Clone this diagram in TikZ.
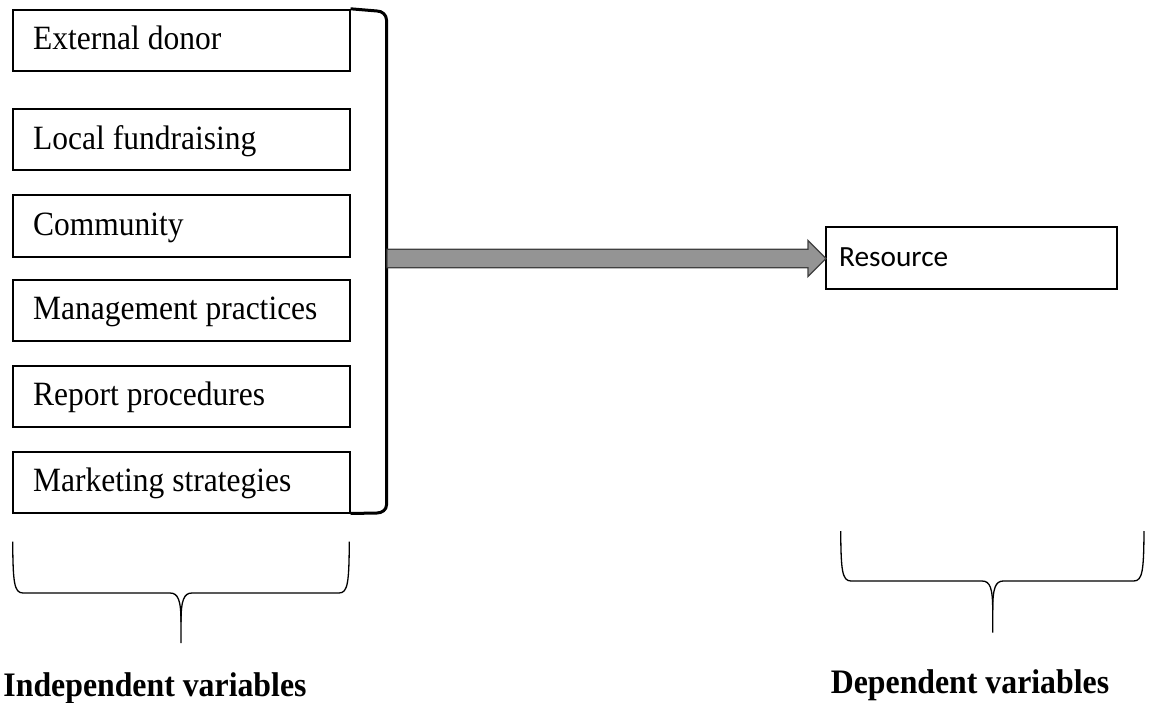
\documentclass[tikz,border=0pt]{standalone}
\usepackage{fontspec}
\usepackage{graphicx}
\setmainfont{Liberation Serif}
\newfontfamily\calib{Carlito}
\usetikzlibrary{calc}
\newcommand{\tallx}[1]{\scalebox{1}[1.08]{#1}}
\begin{document}
\begin{tikzpicture}[x=1pt,y=-1pt,
  varbox/.style={draw=black,line width=2pt,minimum width=337pt,minimum height=61pt,inner sep=0pt},
  resbox/.style={draw=black,line width=2pt,minimum width=291pt,minimum height=62pt,inner sep=0pt},
  boxtext/.style={anchor=base west,inner sep=0pt,font=\fontsize{31.5}{36}\selectfont},
  restext/.style={anchor=base west,inner sep=0pt,font=\calib\fontsize{29.3}{34}\selectfont},
  lbl/.style={anchor=base,inner sep=0pt,font=\bfseries\fontsize{31.8}{36}\selectfont},
  bracketline/.style={draw=black,line width=3pt,line join=round},
  bracestyle/.style={draw=black,line width=1.3pt},
  bigarrow/.style={draw=black!75,line width=1.3pt,fill=black!42,line join=miter}]
\useasboundingbox (0,0) rectangle (1155,703);
\fill[white] (0,0) rectangle (1155,703);
% left boxes
\node[varbox] (b1) at (181,40.3) {};
\node[varbox] (b2) at (181,140) {};
\node[varbox] (b3) at (181,226) {};
\node[varbox] (b4) at (181,310) {};
\node[varbox] (b5) at (181,396) {};
\node[varbox] (b6) at (181,482) {};
\node[boxtext] (t1) at ($(b1.west)+(21.5,9.5)$) {\tallx{External donor}};
\node[boxtext] (t2) at ($(b2.west)+(21.5,9.5)$) {\tallx{Local fundraising}};
\node[boxtext] (t3) at ($(b3.west)+(21.5,9.5)$) {\tallx{Community}};
\node[boxtext] (t4) at ($(b4.west)+(21.5,9.5)$) {\tallx{Management practices}};
\node[boxtext] (t5) at ($(b5.west)+(21.5,9.5)$) {\tallx{Report procedures}};
\node[boxtext] (t6) at ($(b6.west)+(21.5,9.5)$) {\tallx{Marketing strategies}};
% right box
\node[resbox] (res) at (971.5,258) {};
\node[restext] (rt) at ($(res.west)+(14,8)$) {Resource};
% bracket
\coordinate (brtop) at (386.5,20);
\coordinate (brbot) at (386.5,505);
\coordinate (brk) at (387,258.5);
\draw[bracketline] (b1.north east) -- (377,11) to[out=0,in=90] (brtop) -- (brbot) to[out=-90,in=0] (377,513) -- (b6.south east);
% arrow
\draw[bigarrow] let \p1=(brk), \p2=(res.west) in
  (\x1,\y1+9.2pt) -- (\x2-17pt,\y1+9.2pt) -- (\x2-17pt,\y1+18pt) -- (\x2+1pt,\y1) --
  (\x2-17pt,\y1-18pt) -- (\x2-17pt,\y1-9.2pt) -- (\x1,\y1-9.2pt) -- cycle;
% left brace
\coordinate (lb1) at (12.7,541.7);
\coordinate (lb2) at (349.3,541.7);
\coordinate (lbt) at (181,643);
\draw[bracestyle] (lb1) .. controls (13,582) and (14,593) .. (23,593) -- (170,593)
  .. controls (178,593) and (181,600) .. (181,622) -- (lbt);
\draw[bracestyle] (lb2) .. controls (349,582) and (348,593) .. (339,593) -- (192,593)
  .. controls (184,593) and (181,600) .. (181,622);
% right brace
\coordinate (rb1) at (840.7,531);
\coordinate (rb2) at (1144,531);
\coordinate (rbt) at (992.7,632.7);
\draw[bracestyle] (rb1) .. controls (841,570) and (842,581) .. (851,581) -- (982,581)
  .. controls (990,581) and (992.7,588) .. (992.7,610) -- (rbt);
\draw[bracestyle] (rb2) .. controls (1143.7,570) and (1142.7,581) .. (1133.7,581) -- (1003.4,581)
  .. controls (995.4,581) and (992.7,588) .. (992.7,610);
% labels
\node[lbl] (il) at (155,696.7) {\tallx{Independent variables}};
\node[lbl] (dl) at (970,693.3) {\tallx{Dependent variables}};
\end{tikzpicture}
\end{document}
